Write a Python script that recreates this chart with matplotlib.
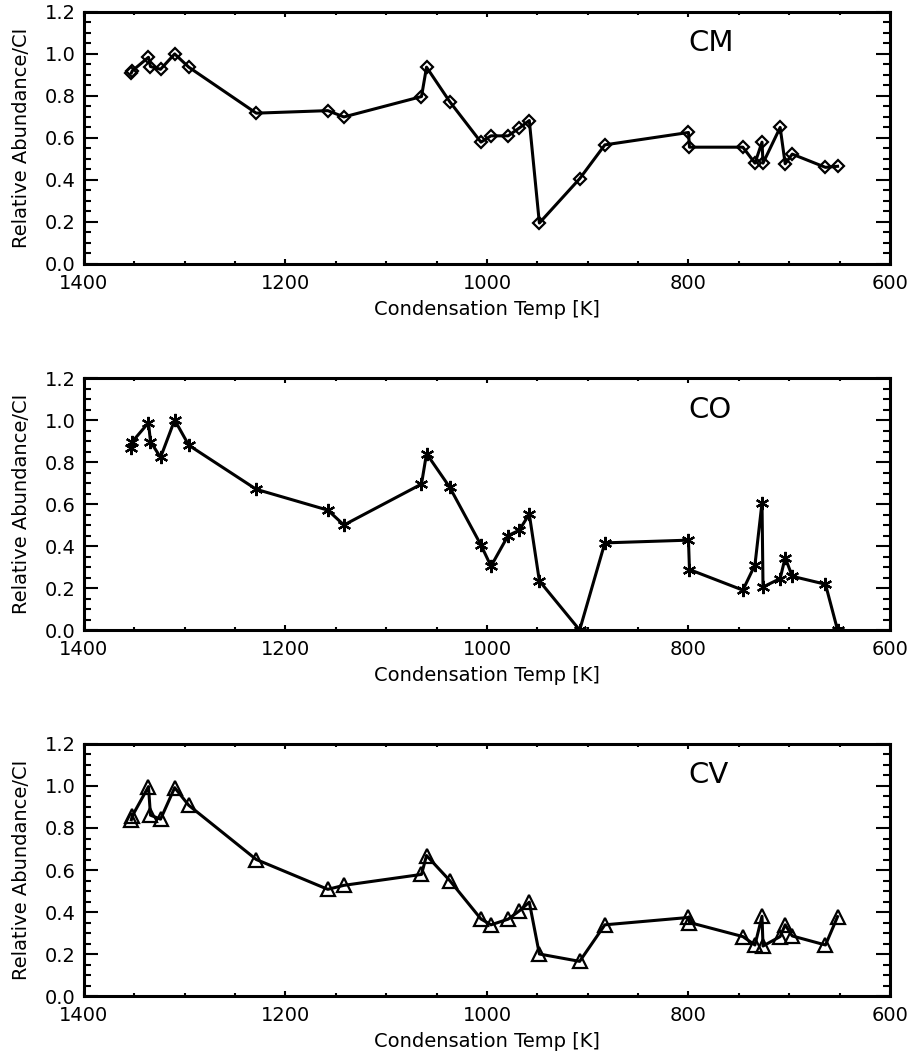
"""Relative abundance vs condensation temperature for CM, CO and CV chondrites."""

import matplotlib
matplotlib.use("Agg")
import matplotlib.pyplot as plt
from matplotlib.ticker import MultipleLocator

# elements ordered by decreasing 50% condensation temperature
elements = ["Ni", "Co", "Mg", "Fe", "Pd", "Si", "Cr", "P", "Mn", "Li", "As",
            "Au", "Cu", "K", "Ag", "Sb", "Ga", "Na", "Cl", "B", "Ge", "Rb",
            "Cs", "Bi", "F", "Pb", "Zn", "Te", "Sn", "Se", "S", "Cd"]
cond_temp = [1353, 1352, 1336, 1334, 1324, 1310, 1296, 1229, 1158, 1142, 1065,
             1060, 1037, 1006, 996, 979, 968, 958, 948, 908, 883, 800,
             799, 746, 734, 727, 726, 709, 704, 697, 664, 652]

cm_abund = [0.91, 0.92, 0.984, 0.94, 0.927, 1.0, 0.937, 0.718, 0.73, 0.70, 0.797,
            0.937, 0.773, 0.58, 0.61, 0.61, 0.647, 0.683, 0.195, 0.406, 0.567, 0.626,
            0.556, 0.556, 0.48, 0.58, 0.48, 0.65, 0.477, 0.523, 0.46, 0.465]
co_abund = [0.865, 0.897, 0.987, 0.897, 0.822, 1.0, 0.88, 0.67, 0.571, 0.50, 0.695,
            0.84, 0.68, 0.405, 0.304, 0.45, 0.475, 0.552, 0.234, 0.0, 0.415, 0.428,
            0.288, 0.19, 0.31, 0.606, 0.205, 0.245, 0.345, 0.256, 0.218, 0.0]
cv_abund = [0.839, 0.858, 0.997, 0.861, 0.842, 0.992, 0.908, 0.65, 0.508, 0.527, 0.579,
            0.669, 0.55, 0.367, 0.339, 0.366, 0.405, 0.447, 0.20, 0.165, 0.339, 0.374,
            0.35, 0.283, 0.243, 0.38, 0.238, 0.283, 0.339, 0.286, 0.243, 0.378]

groups = ["CM", "CO", "CV"]

plt.rcParams["font.family"] = ["DejaVu Sans"]


def draw_panel(ax, values, marker, ms, label):
    """One panel: abundance line with open symbols, IDL-like axes."""
    ax.plot(cond_temp, values, color="black", lw=2.2, marker=marker, ms=ms,
            mfc="none", mec="black", mew=1.6)
    ax.set_xlim(1400, 600)
    ax.set_ylim(0.0, 1.2)
    ax.xaxis.set_major_locator(MultipleLocator(200))
    ax.xaxis.set_minor_locator(MultipleLocator(50))
    ax.yaxis.set_major_locator(MultipleLocator(0.2))
    ax.yaxis.set_minor_locator(MultipleLocator(0.05))
    ax.yaxis.set_major_formatter(lambda v, pos: f"{v:.1f}")
    ax.tick_params(axis="both", which="both", direction="in", top=True, right=True,
                   width=1.5, labelsize=14, colors="black")
    ax.tick_params(axis="y", which="major", length=10, pad=6)
    ax.tick_params(axis="y", which="minor", length=5)
    ax.tick_params(axis="x", which="major", length=3.8, pad=7)
    ax.tick_params(axis="x", which="minor", length=2)
    for sp in ax.spines.values():
        sp.set_linewidth(2.2)
    ax.set_xlabel("Condensation Temp [K]", fontsize=14, labelpad=5)
    ax.set_ylabel("Relative Abundance/CI", fontsize=14)
    ax.yaxis.set_label_coords(-0.066, 0.5)
    ax.text(800, 1.05, label, fontsize=21, ha="left", va="center")


fig = plt.figure(figsize=(9.11, 10.55), dpi=100)
left, width, height = 0.0922, 0.8847, 0.2389
bottoms = [0.7498, 0.4028, 0.0559]
series = [cm_abund, co_abund, cv_abund]
markers = [("D", 6.5), ((6, 2, 0), 9.5), ("^", 9.5)]

for bottom, values, (marker, ms), label in zip(bottoms, series, markers, groups):
    ax = fig.add_axes([left, bottom, width, height])
    draw_panel(ax, values, marker, ms, label)

fig.savefig("out.png", dpi=100, facecolor="white")
plt.close(fig)
